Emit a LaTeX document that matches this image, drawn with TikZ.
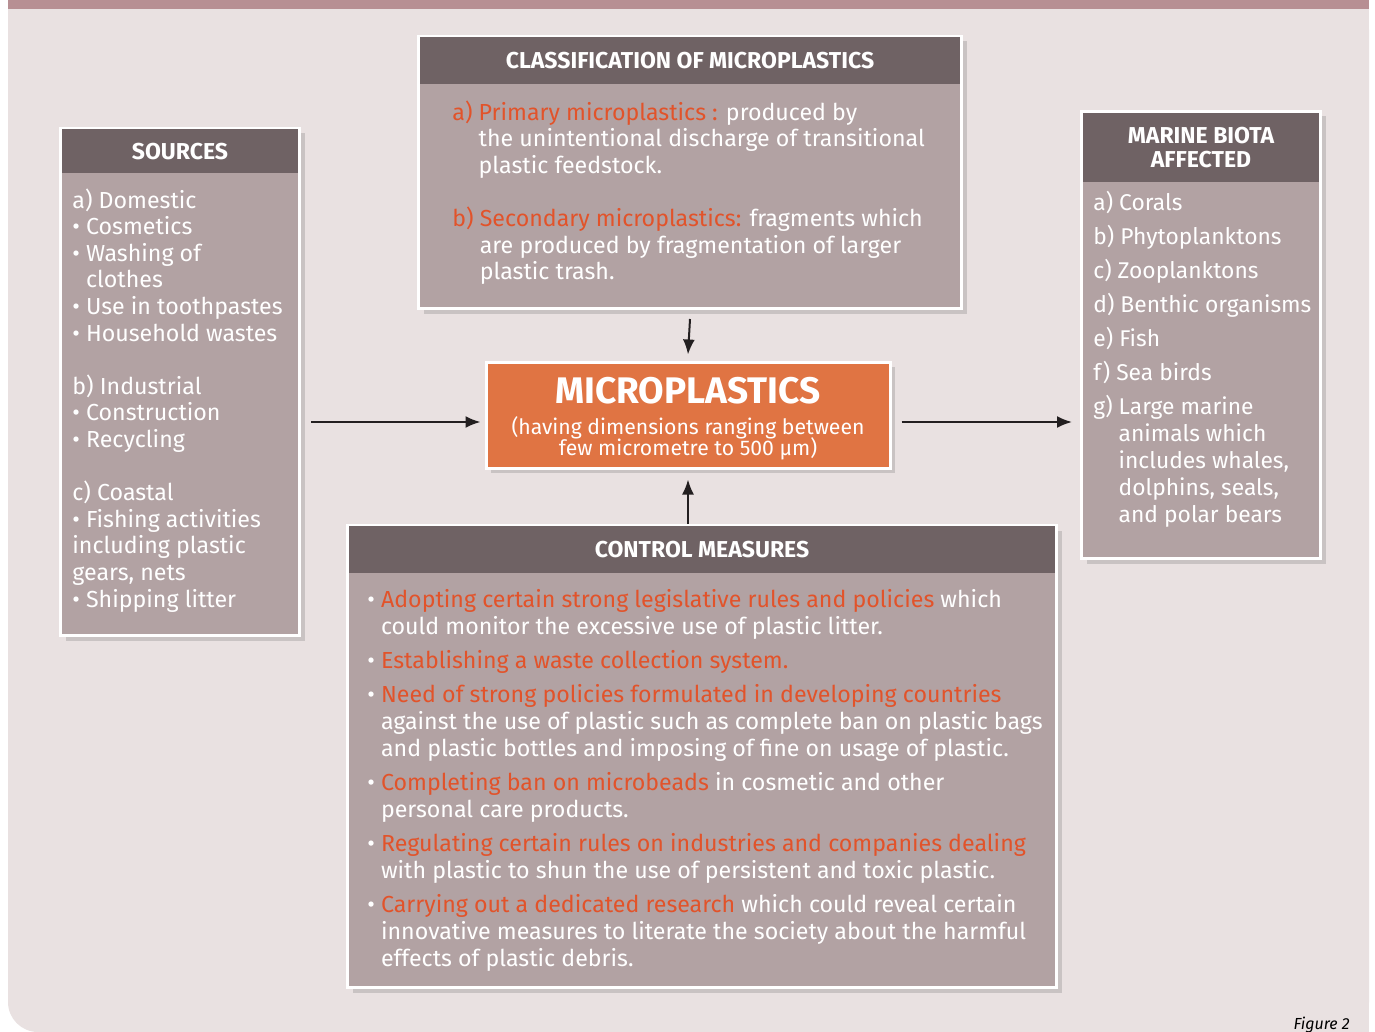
\documentclass[tikz,border=0pt]{standalone}
\usepackage{fontspec}
\setmainfont{Fira Sans}
\usetikzlibrary{arrows.meta,shadows}

\definecolor{panelbg}{HTML}{E9E1E1}
\definecolor{topbar}{HTML}{B78F93}
\definecolor{headgray}{HTML}{6F6264}
\definecolor{bodygray}{HTML}{B2A2A3}
\definecolor{microorange}{HTML}{E07443}
\definecolor{hotred}{HTML}{E2532A}
\definecolor{arrowink}{HTML}{231F20}
\newcommand{\hot}[1]{\textcolor{hotred}{#1}}
\newcommand{\bul}{\textbullet\ }
\newcommand{\hang}{\phantom{\textbullet\ }}

\begin{document}
\begin{tikzpicture}[
  x=0.5pt, y=-0.5pt,
  panel/.style={fill=panelbg},
  box/.style={
    fill=bodygray,
    draw=white,
    line width=1.5pt,
    drop shadow={shadow xshift=2.5pt, shadow yshift=-2.5pt, opacity=.3},
    inner sep=0pt,
    anchor=north west
  },
  head/.style={
    fill=headgray,
    text=white,
    inner sep=0pt,
    anchor=north,
    align=center,
    font=\bfseries\fontsize{11.5}{12}\selectfont
  },
  body text/.style={
    text=white,
    inner sep=0pt,
    anchor=north west,
    align=left,
    font=\fontsize{11.6}{13.3}\selectfont
  },
  link/.style={
    draw=arrowink,
    line width=1pt,
    -{Latex[length=7.5pt,width=6pt]}
  },
]
\useasboundingbox (0,0) rectangle (1375,1032);
\fill[white] (0,0) rectangle (1375,1032);
\fill[panel, rounded corners=15pt] (8,0) rectangle (1369,1032);
\fill[panel] (8,0) rectangle (1369,500);
\fill[panel] (600,500) rectangle (1369,1032);
\fill[topbar] (8,0) rectangle (1369,9);

\node[box, minimum width=119.5pt, minimum height=253.5pt] (src) at (59,127) {};
\node[head, minimum width=118pt, minimum height=22.25pt] (srchead)
  at ([yshift=-0.75pt]src.north) {SOURCES};
\node[body text] (srctext) at (72,188) {%
  a) Domestic\\
  \bul Cosmetics\\
  \bul Washing of\\
  \hang clothes\\
  \bul Use in toothpastes\\
  \bul Household wastes\\[13.3pt]
  b) Industrial\\
  \bul Construction\\
  \bul Recycling\\[13.3pt]
  c) Coastal\\
  \bul Fishing activities\\
  including plastic\\
  gears, nets\\
  \bul Shipping litter};

\node[box, minimum width=271.5pt, minimum height=136pt] (cls) at (417,35) {};
\node[head, minimum width=270pt, minimum height=23.75pt] (clshead)
  at ([yshift=-0.75pt]cls.north) {CLASSIFICATION OF MICROPLASTICS};
\node[body text] (clstext) at (452,100) {%
  \hot{a) Primary microplastics :} produced by\\
  \phantom{a) }the unintentional discharge of transitional\\
  \phantom{a) }plastic feedstock.\\[13.3pt]
  \hot{b) Secondary microplastics:} fragments which\\
  \phantom{b) }are produced by fragmentation of larger\\
  \phantom{b) }plastic trash.};

\node[box, minimum width=119.5pt, minimum height=223.5pt] (bio) at (1080,110) {};
\node[head, minimum width=118pt, minimum height=34.75pt] (biohead)
  at ([yshift=-1.25pt]bio.north) {MARINE BIOTA\\AFFECTED};
\node[body text, font=\fontsize{11.4}{13.5}\selectfont] (biotext) at (1093,191) {%
  a) Corals\\[3.5pt]
  b) Phytoplanktons\\[3.5pt]
  c) Zooplanktons\\[3.5pt]
  d) Benthic organisms\\[3.5pt]
  e) Fish\\[3.5pt]
  f) Sea birds\\[3.5pt]
  g) Large marine\\
  \phantom{g) }animals which\\
  \phantom{g) }includes whales,\\
  \phantom{g) }dolphins, seals,\\
  \phantom{g) }and polar bears};

\node[box, minimum width=354.5pt, minimum height=231pt] (ctl) at (346,524) {};
\node[head, minimum width=353pt, minimum height=23.75pt] (ctlhead)
  at ([yshift=-0.75pt]ctl.north) {CONTROL MEASURES};
\node[body text, font=\fontsize{11.6}{13.5}\selectfont] (ctltext) at (367,589) {%
  \bul\hot{Adopting certain strong legislative rules and policies} which\\
  \hang could monitor the excessive use of plastic litter.\\[3.5pt]
  \bul\hot{Establishing a waste collection system.}\\[3.5pt]
  \bul\hot{Need of strong policies formulated in developing countries}\\
  \hang against the use of plastic such as complete ban on plastic bags\\
  \hang and plastic bottles and imposing of fine on usage of plastic.\\[3.5pt]
  \bul\hot{Completing ban on microbeads} in cosmetic and other\\
  \hang personal care products.\\[3.5pt]
  \bul\hot{Regulating certain rules on industries and companies dealing}\\
  \hang with plastic to shun the use of persistent and toxic plastic.\\[3.5pt]
  \bul\hot{Carrying out a dedicated research} which could reveal certain\\
  \hang innovative measures to literate the society about the harmful\\
  \hang effects of plastic debris.};

\node[box, fill=microorange, anchor=center, minimum width=202pt, minimum height=53pt,
  text=white, align=center, font=\fontsize{10.6}{10.5}\selectfont] (micro) at (688,415) {%
  \rule{0pt}{17pt}\fontsize{18.5}{20}\selectfont\bfseries MICROPLASTICS\\[5pt]
  \fontsize{10.6}{10.5}\selectfont\mdseries (having dimensions ranging between\\[-1.5pt]
  few micrometre to 500 µm)};

\draw[link] ([xshift=5pt,yshift=-3.5pt]src.east |- micro.west) -- ([xshift=-2pt,yshift=-3.5pt]micro.west);
\draw[link] ([xshift=5pt,yshift=-3.5pt]micro.east) -- ([xshift=-4pt,yshift=-3.5pt]bio.west |- micro.east);
\draw[link] ([yshift=-4.5pt]cls.south) -- ([yshift=3pt]micro.north);
\draw[link] (micro.south |- ctl.north) -- ([yshift=-5pt]micro.south);

\node[anchor=base east, inner sep=0pt, font=\itshape\fontsize{8}{9}\selectfont] (figlabel)
  at (1350,1029) {Figure 2};
\end{tikzpicture}
\end{document}
